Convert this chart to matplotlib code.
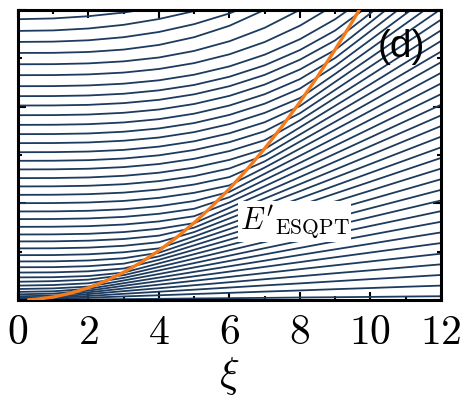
import numpy as np
import matplotlib.pyplot as plt
from matplotlib.ticker import MultipleLocator, NullFormatter

plt.ioff()

# control parameter grid
xi = [0, 1, 2, 3, 4, 5, 6, 7, 8, 9, 10, 11, 12]

# energy levels E' (one row per level, values on the xi grid until they leave the window)
levels = [
    [0.000, 0.003, 0.007, 0.010, 0.013, 0.017, 0.020, 0.023, 0.027, 0.030, 0.033, 0.037, 0.040],
    [0.004, 0.013, 0.025, 0.038, 0.050, 0.063, 0.075, 0.088, 0.100, 0.113, 0.125, 0.138, 0.150],
    [0.012, 0.022, 0.043, 0.065, 0.087, 0.108, 0.130, 0.152, 0.173, 0.195, 0.217, 0.238, 0.260],
    [0.024, 0.031, 0.062, 0.093, 0.123, 0.154, 0.185, 0.216, 0.247, 0.278, 0.308, 0.339, 0.370],
    [0.040, 0.046, 0.080, 0.120, 0.160, 0.200, 0.240, 0.280, 0.320, 0.360, 0.400, 0.440, 0.480],
    [0.060, 0.067, 0.098, 0.148, 0.197, 0.246, 0.295, 0.344, 0.393, 0.443, 0.492, 0.541, 0.590],
    [0.085, 0.091, 0.117, 0.175, 0.233, 0.292, 0.350, 0.408, 0.467, 0.525, 0.583, 0.642, 0.700],
    [0.115, 0.121, 0.140, 0.203, 0.270, 0.338, 0.405, 0.473, 0.540, 0.608, 0.675, 0.743, 0.810],
    [0.150, 0.156, 0.174, 0.230, 0.307, 0.383, 0.460, 0.537, 0.613, 0.690, 0.767, 0.843, 0.920],
    [0.190, 0.196, 0.212, 0.258, 0.343, 0.429, 0.515, 0.601, 0.687, 0.773, 0.858, 0.944, 1.030],
    [0.235, 0.237, 0.249, 0.285, 0.380, 0.475, 0.570, 0.665, 0.760, 0.855, 0.950, 1.045, 1.140],
    [0.285, 0.287, 0.298, 0.327, 0.417, 0.521, 0.625, 0.729, 0.833, 0.938, 1.042, 1.146, 1.250],
    [0.340, 0.341, 0.351, 0.377, 0.453, 0.567, 0.680, 0.793, 0.907, 1.020, 1.133, 1.247, 1.360],
    [0.400, 0.401, 0.410, 0.433, 0.490, 0.613, 0.735, 0.858, 0.980, 1.103, 1.225, 1.348, 1.470],
    [0.465, 0.466, 0.474, 0.495, 0.535, 0.658, 0.790, 0.922, 1.053, 1.185, 1.317, 1.448, 1.580],
    [0.535, 0.536, 0.543, 0.562, 0.599, 0.704, 0.845, 0.986, 1.127, 1.268, 1.408, 1.549, 1.690],
    [0.607, 0.608, 0.615, 0.632, 0.667, 0.750, 0.900, 1.050, 1.200, 1.350, 1.500, 1.650, 1.800],
    [0.679, 0.680, 0.686, 0.704, 0.738, 0.796, 0.955, 1.114, 1.273, 1.433, 1.592, 1.751, 1.910],
    [0.758, 0.759, 0.765, 0.782, 0.814, 0.868, 1.010, 1.178, 1.347, 1.515, 1.683, 1.852, 2.020],
    [0.838, 0.839, 0.845, 0.861, 0.893, 0.945, 1.065, 1.243, 1.420, 1.598, 1.775, 1.953, 2.130],
    [0.917, 0.918, 0.924, 0.940, 0.972, 1.025, 1.120, 1.307, 1.493, 1.680, 1.867, 2.053, 2.240],
    [1.003, 1.004, 1.010, 1.026, 1.058, 1.110, 1.187, 1.371, 1.567, 1.763, 1.958, 2.154, 2.350],
    [1.089, 1.090, 1.096, 1.112, 1.144, 1.196, 1.273, 1.435, 1.640, 1.845, 2.050, 2.255, 2.460],
    [1.176, 1.177, 1.183, 1.199, 1.231, 1.283, 1.362, 1.499, 1.713, 1.928, 2.142, 2.356, 2.570],
    [1.262, 1.263, 1.269, 1.286, 1.318, 1.371, 1.451, 1.563, 1.787, 2.010, 2.233, 2.457, 2.680],
    [1.352, 1.353, 1.359, 1.376, 1.408, 1.462, 1.542, 1.654, 1.860, 2.093, 2.325, 2.558, 2.790],
    [1.441, 1.442, 1.448, 1.465, 1.498, 1.553, 1.634, 1.747, 1.933, 2.175, 2.417, 2.658, 2.900],
    [1.530, 1.531, 1.537, 1.554, 1.588, 1.643, 1.726, 1.840, 2.007, 2.258, 2.508, 2.759, 3.010],
    [1.624, 1.625, 1.631, 1.649, 1.682, 1.738, 1.821, 1.937, 2.090, 2.340, 2.600, 2.860, 3.120],
    [1.717, 1.718, 1.724, 1.742, 1.776, 1.832, 1.916, 2.032, 2.188, 2.423, 2.692, 2.961, 3.230],
    [1.813, 1.814, 1.820, 1.838, 1.872, 1.929, 2.013, 2.130, 2.286, 2.505, 2.783, 3.062],
    [1.913, 1.914, 1.920, 1.938, 1.972, 2.029, 2.113, 2.230, 2.386, 2.588, 2.875, 3.163],
    [2.013, 2.014, 2.020, 2.038, 2.072, 2.129, 2.213, 2.330, 2.487, 2.687, 2.967, 3.263],
    [2.110, 2.111, 2.117, 2.135, 2.170, 2.226, 2.311, 2.429, 2.587, 2.789, 3.058],
    [2.213, 2.214, 2.221, 2.239, 2.274, 2.332, 2.418, 2.539, 2.699, 2.906, 3.163],
    [2.327, 2.328, 2.335, 2.354, 2.391, 2.452, 2.543, 2.670, 2.839, 3.056],
    [2.440, 2.441, 2.449, 2.470, 2.510, 2.578, 2.678, 2.817, 3.003],
    [2.557, 2.558, 2.567, 2.592, 2.640, 2.720, 2.838, 3.003],
    [2.671, 2.674, 2.688, 2.720, 2.774, 2.855, 2.966, 3.112],
    [2.785, 2.790, 2.810, 2.848, 2.908, 2.990, 3.097],
    [2.906, 2.914, 2.937, 2.975, 3.029],
]

# excited-state QPT energy
xi_esqpt = [0.3, 0.5, 1.0, 1.5, 2.0, 2.5, 3.0, 3.5, 4.0, 4.5, 5.0, 5.5, 6.0,
            6.5, 7.0, 7.5, 8.0, 8.5, 9.0, 9.5, 10.0]
e_esqpt = [0.003, 0.008, 0.032, 0.072, 0.128, 0.200, 0.288, 0.392, 0.512, 0.648, 0.800,
           0.968, 1.152, 1.352, 1.568, 1.800, 2.048, 2.312, 2.592, 2.888, 3.200]

xtick_vals = [0, 2, 4, 6, 8, 10, 12]

plt.rcParams['mathtext.fontset'] = 'cm'

fig = plt.figure(figsize=(4.67, 4.05), dpi=100)
ax = fig.add_axes([0.0385, 0.259, 0.9055, 0.716])

for lev in levels:
    ax.plot(xi[:len(lev)], lev, color='#1d3b5e', lw=1.3, solid_capstyle='round')

ax.plot(xi_esqpt, e_esqpt, color='#f47a1a', lw=2.4, solid_capstyle='round', zorder=5)

ax.set_xlim(0, 12)
ax.set_ylim(0, 3)

ax.set_xticks(xtick_vals)
ax.set_xticklabels(['$%d$' % v for v in xtick_vals])
ax.xaxis.set_minor_locator(MultipleLocator(1))
ax.yaxis.set_major_locator(MultipleLocator(1))
ax.yaxis.set_minor_locator(MultipleLocator(0.5))
ax.yaxis.set_major_formatter(NullFormatter())
ax.tick_params(which='both', direction='in', top=True, right=True, width=1.5, labelsize=30, pad=8)
ax.tick_params(which='major', length=6)
ax.tick_params(which='minor', length=3)
for sp in ax.spines.values():
    sp.set_linewidth(2.2)

ax.set_xlabel(r'$\xi$', fontsize=30, labelpad=1)

ax.text(6.3, 0.81, r"$E'_{\rm ESQPT}$", fontsize=22, ha='left', va='center', zorder=6,
        bbox=dict(facecolor='white', edgecolor='none', pad=1))
ax.text(11.55, 2.62, '(d)', fontsize=28, ha='right', va='center', family='Liberation Sans')

fig.savefig('out.png', dpi=100)
plt.close(fig)
